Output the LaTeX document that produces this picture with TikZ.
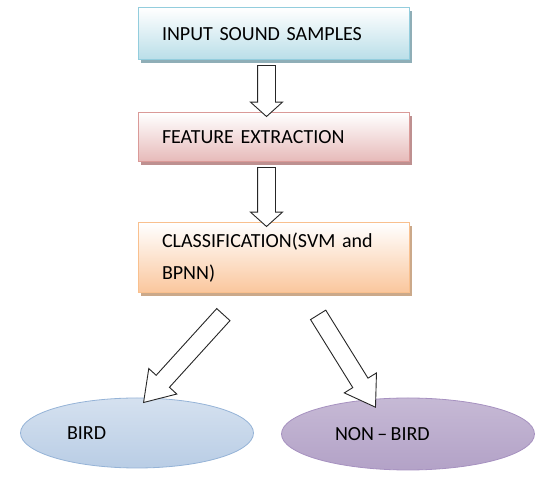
\documentclass[tikz,border=0pt]{standalone}
\usepackage{fontspec}
\setmainfont{Carlito}
\usetikzlibrary{positioning,shapes.geometric,shapes.arrows,shadows,calc}
\definecolor{inblue}{HTML}{B9DEE8}
\definecolor{inblueline}{HTML}{93CDDD}
\definecolor{inblueshade}{HTML}{8FAEB7}
\definecolor{featred}{HTML}{E6B9B8}
\definecolor{featredline}{HTML}{DA9A98}
\definecolor{featredshade}{HTML}{BE9090}
\definecolor{clsorange}{HTML}{FAC69C}
\definecolor{clsorangeline}{HTML}{F9C08E}
\definecolor{clsorangeshade}{HTML}{CBA98A}
\definecolor{birdblue}{HTML}{B9CDE5}
\definecolor{birdblueline}{HTML}{95B3D7}
\definecolor{nonbirdpurple}{HTML}{B3A2C7}
\definecolor{nonbirdpurpleline}{HTML}{A691C0}

\begin{document}
\begin{tikzpicture}[x=1pt,y=1pt,
  every node/.style={font=\fontsize{20}{32}\selectfont},
  stage/.style n args={3}{rectangle, draw=#2, line width=1pt, top color=white, bottom color=#1,
    general shadow={fill=#3, shadow xshift=3pt, shadow yshift=-3pt},
    minimum width=271, text width=223, inner xsep=24, inner ysep=0, align=left},
  outcome/.style n args={2}{ellipse, draw=#2, line width=0.8pt, inner sep=0, align=left,
    minimum height=70},
  fat/.style={single arrow, draw=black!85, fill=white, line width=0.9pt, inner xsep=0,
    inner ysep=8.5, minimum width=0, sloped, allow upside down, midway}]
  \useasboundingbox (0,0) rectangle (535,478);

  \node[stage={inblue}{inblueline}{inblueshade}, minimum height=52] (input) at (273.5,444) {INPUT SOUND SAMPLES};
  \node[stage={featred}{featredline}{featredshade}, minimum height=49] (feature) at (273.5,340.5) {FEATURE EXTRACTION};
  \node[stage={clsorange}{clsorangeline}{clsorangeshade}, minimum height=70] (class) at (273.5,220) {CLASSIFICATION(SVM and\\BPNN)};

  \node[outcome={birdblue}{birdblueline}, top color=birdblue!60, bottom color=birdblue,
    minimum width=233, text width=140] (bird) at (137,45) {BIRD};
  \node[outcome={nonbirdpurple}{nonbirdpurpleline}, top color=nonbirdpurple!75, middle color=nonbirdpurple!35,
    bottom color=nonbirdpurple, minimum width=253, text width=146, minimum height=72] (nonbird) at (408,44) {NON\,--\,BIRD};

  \coordinate (a1) at ($(input.south)+(-7,-1)$);
  \coordinate (b1) at ($(feature.north)+(-7,0)$);
  \coordinate (a2) at ($(feature.south)+(-7,-1)$);
  \coordinate (b2) at ($(class.north)+(-7,0)$);
  \coordinate (a3) at ($(class.south)+(-45.5,-16)$);
  \coordinate (b3) at ($(bird.north)+(11,0)$);
  \coordinate (a4) at ($(class.south)+(41,-15.5)$);
  \coordinate (b4) at ($(nonbird.north)+(-36,-4)$);

  \path let \p1=($(b1)-(a1)$), \n1={veclen(\x1,\y1)} in (a1) -- (b1)
    node[fat, minimum height=\n1, single arrow head extend=7, single arrow tip angle=96] {};
  \path let \p1=($(b2)-(a2)$), \n1={veclen(\x1,\y1)} in (a2) -- (b2)
    node[fat, minimum height=\n1, single arrow head extend=7, single arrow tip angle=96] {};
  \path let \p1=($(b3)-(a3)$), \n1={veclen(\x1,\y1)} in (a3) -- (b3)
    node[fat, minimum height=\n1, single arrow head extend=10, single arrow tip angle=67] {};
  \path let \p1=($(b4)-(a4)$), \n1={veclen(\x1,\y1)} in (a4) -- (b4)
    node[fat, minimum height=\n1, single arrow head extend=10, single arrow tip angle=67] {};
\end{tikzpicture}
\end{document}
